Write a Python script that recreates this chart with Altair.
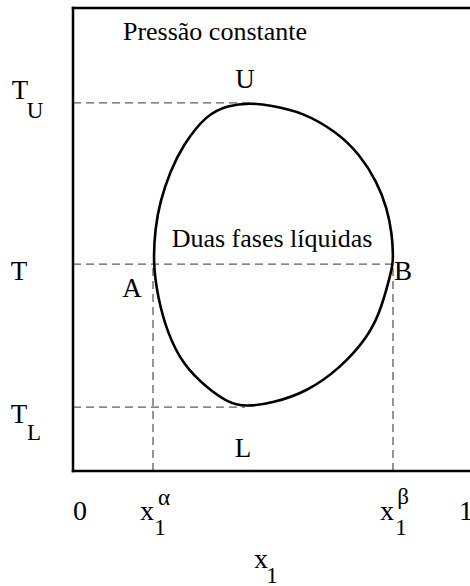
import altair as alt
import pandas as pd

# Composition (mole fraction of component 1) and temperature, both on a 0..1 scale
x_alpha = 0.2015
x_beta = 0.806
t_upper = 0.795
t_tie = 0.447
t_lower = 0.138

# Binodal (solubility) curve, traced clockwise from the upper consolute point U
curve_x = [0.446, 0.496, 0.579, 0.665, 0.723, 0.766, 0.791, 0.804, 0.806, 0.806,
           0.793, 0.773, 0.741, 0.673, 0.589, 0.504, 0.433, 0.388, 0.338, 0.277,
           0.237, 0.214, 0.2015, 0.207, 0.219, 0.244, 0.277, 0.335, 0.390]
curve_t = [0.795, 0.790, 0.775, 0.732, 0.683, 0.624, 0.568, 0.510, 0.467, 0.447,
           0.402, 0.343, 0.287, 0.222, 0.171, 0.147, 0.138, 0.149, 0.179, 0.229,
           0.300, 0.374, 0.447, 0.525, 0.581, 0.646, 0.704, 0.769, 0.790]

x_top = curve_x[0]
x_bottom = curve_x[curve_t.index(min(curve_t))]

W, H = 397, 463
FONT = "Liberation Serif"
BIG = 27
SMALL = 23

xs = alt.Scale(domain=[0, 1], nice=False, zero=False)
ys = alt.Scale(domain=[0, 1], nice=False, zero=False)

curve_df = pd.DataFrame({"x": curve_x, "t": curve_t, "i": list(range(len(curve_x)))})
curve = alt.Chart(curve_df).mark_line(
    color="black", strokeWidth=2.6, interpolate="basis-closed"
).encode(
    x=alt.X("x:Q", scale=xs, axis=None),
    y=alt.Y("t:Q", scale=ys, axis=None),
    order="i:Q",
)

# Guide lines: isotherms T_U, T, T_L and the tie-line compositions
guides_df = pd.DataFrame({
    "x0": [0, 0, 0, x_alpha, x_beta],
    "x1": [x_top, x_beta, x_bottom, x_alpha, x_beta],
    "y0": [t_upper, t_tie, t_lower, 0, 0],
    "y1": [t_upper, t_tie, t_lower, t_tie, t_tie],
})
guides = alt.Chart(guides_df).mark_rule(
    color="#5e5e5e", strokeWidth=1.3, strokeDash=[8, 5]
).encode(
    x=alt.X("x0:Q", scale=xs, axis=None),
    x2="x1:Q",
    y=alt.Y("y0:Q", scale=ys, axis=None),
    y2="y1:Q",
)

# Frame: left, bottom and top edges
frame_df = pd.DataFrame({
    "x0": [0, 0, 0],
    "x1": [0, 1, 1],
    "y0": [0, 0, 1],
    "y1": [1, 0, 1],
})
frame = alt.Chart(frame_df).mark_rule(
    color="black", strokeWidth=2.5, strokeCap="square"
).encode(
    x=alt.X("x0:Q", scale=xs, axis=None),
    x2="x1:Q",
    y=alt.Y("y0:Q", scale=ys, axis=None),
    y2="y1:Q",
)


def label(text, x=None, y=None, px=None, py=None, dx=0, dy=0, size=BIG):
    enc = {
        "text": alt.Text("label:N"),
        "x": alt.X(datum=x, scale=xs, axis=None) if x is not None else alt.value(px),
        "y": alt.Y(datum=y, scale=ys, axis=None) if y is not None else alt.value(py),
    }
    return alt.Chart(pd.DataFrame({"label": [text]})).mark_text(
        font=FONT, fontSize=size, color="black", align="center",
        baseline="alphabetic", dx=dx, dy=dy
    ).encode(**enc)


labels = [
    label("Pressão constante", px=142, py=32, size=26),
    label("Duas fases líquidas", px=199, py=239, size=26),
    label("U", x=x_top, y=t_upper, dx=-5, dy=-15),
    label("A", x=x_alpha, y=t_tie, dx=-21, dy=33),
    label("B", x=x_beta, y=t_tie, dx=10, dy=16),
    label("L", x=x_bottom, y=t_lower, dx=-2, dy=50),
    # temperature labels on the left
    label("T", px=-53, y=t_upper, dy=-4),
    label("U", px=-38, y=t_upper, dy=15, size=SMALL),
    label("T", px=-54, y=t_tie, dy=16),
    label("T", px=-54, y=t_lower, dy=16),
    label("L", px=-39, y=t_lower, dy=33, size=SMALL),
    # composition labels below
    label("0", px=7, py=512, size=28),
    label("x", x=x_alpha, py=512, dx=-6, size=28),
    label("1", x=x_alpha, py=527, dx=7, size=SMALL),
    label("α", x=x_alpha, py=497, dx=11, size=SMALL),
    label("x", x=x_beta, py=512, dx=-6, size=28),
    label("1", x=x_beta, py=527, dx=8, size=SMALL),
    label("β", x=x_beta, py=496, dx=10, size=SMALL),
    label("1", px=393, py=512, size=28),
    # axis title x1
    label("x", px=188, py=560, size=28),
    label("1", px=199, py=575, size=SMALL),
]

chart = alt.layer(guides, curve, frame, *labels).properties(
    width=W,
    height=H,
    padding={"left": 73, "top": 8, "right": 0, "bottom": 115},
    autosize=alt.AutoSizeParams(type="none"),
).configure_view(stroke=None)

chart.save("out.html", embed_options={"renderer": "svg", "actions": False})
